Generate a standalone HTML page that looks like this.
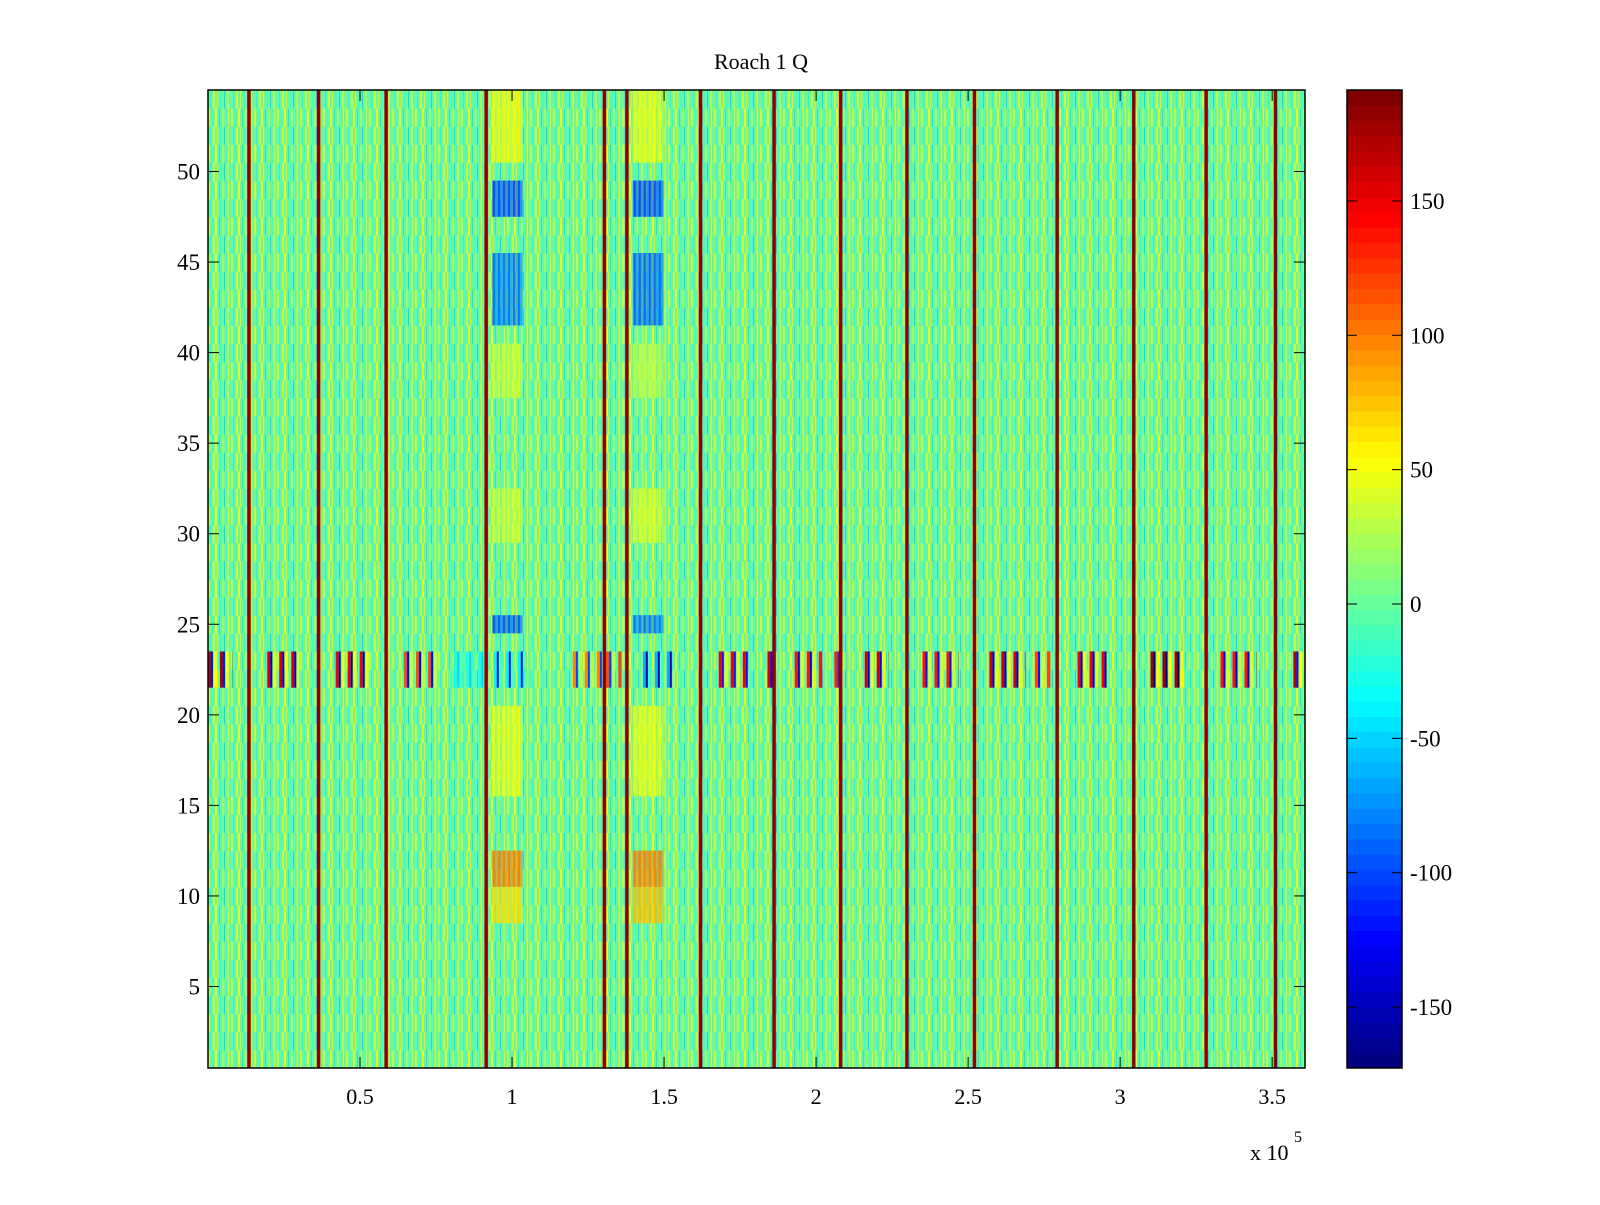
<!DOCTYPE html>
<html><head><meta charset="utf-8"><style>
body{margin:0;background:#fff;width:1600px;height:1200px;overflow:hidden}
svg text{font-family:"Liberation Serif",serif;fill:#000}
</style></head><body>
<svg id="chart" width="1600" height="1200" xmlns="http://www.w3.org/2000/svg">
<defs>
<pattern id="tex" patternUnits="userSpaceOnUse" width="23" height="36.22">
<rect width="23" height="36.22" fill="#70f4a0"/>
<rect x="1" width="2" height="18.11" fill="#b8ff48"/>
<rect x="5" width="1" height="18.11" fill="#30ffd0"/>
<rect x="8" width="2" height="18.11" fill="#e0ff20"/>
<rect x="12" width="1" height="18.11" fill="#10e8f0"/>
<rect x="15" width="2" height="18.11" fill="#90ff70"/>
<rect x="19" width="1" height="18.11" fill="#40ffc0"/>
<rect x="21" width="1" height="18.11" fill="#f0f010"/>
<rect x="3" y="18.11" width="1" height="18.11" fill="#20f8e0"/>
<rect x="6" y="18.11" width="2" height="18.11" fill="#c0ff40"/>
<rect x="10" y="18.11" width="1" height="18.11" fill="#ffe800"/>
<rect x="13" y="18.11" width="2" height="18.11" fill="#40ffc0"/>
<rect x="17" y="18.11" width="1" height="18.11" fill="#10d8ff"/>
<rect x="20" y="18.11" width="2" height="18.11" fill="#a8ff58"/>
</pattern>
</defs>
<text x="761" y="69" font-size="22" text-anchor="middle">Roach 1 Q</text>
<rect x="208" y="90" width="1097" height="978" fill="url(#tex)"/>
<g id="cells"></g>
<rect x="208" y="90" width="1097" height="978" fill="none" stroke="#000" stroke-width="1.5"/>
<g id="axes"></g>
<g id="cbar"></g>
<text x="1250" y="1160" font-size="22">x 10</text>
<text x="1294" y="1142" font-size="16">5</text>
</svg>
<script>
// ---- data ----
const xMin = 0, xMax = 3.608;           // units of 1e5
const yMin = 0.5, yMax = 54.5;
const cMin = -172.7, cMax = 191.3;
const xTicks = [0.5, 1, 1.5, 2, 2.5, 3, 3.5];
const xTickLabels = ["0.5","1","1.5","2","2.5","3","3.5"];
const yTicks = [5,10,15,20,25,30,35,40,45,50];
const cTicks = [-150,-100,-50,0,50,100,150];
const spikeX = [0.134,0.363,0.585,0.914,1.303,1.377,1.619,1.861,2.080,2.298,2.520,2.792,3.044,3.282,3.510];
const spikeV = [185,185,185,185,185,185,185,185,185,185,185,185,185,185,185];
// rectangular features: x0, x1, row0, row1, value
const featX0 = [0.934,0.934,0.934,0.934,0.934,0.934,0.934,0.934,0.934, 1.397,1.397,1.397,1.397,1.397,1.397,1.397,1.397,1.397];
const featX1 = [1.035,1.035,1.035,1.035,1.035,1.035,1.035,1.035,1.035, 1.498,1.498,1.498,1.498,1.498,1.498,1.498,1.498,1.498];
const featR0 = [51,48,42,38,30,25,16,11,9, 51,48,42,38,30,25,16,11,9];
const featR1 = [54,49,45,40,32,25,20,12,10, 54,49,45,40,32,25,20,12,10];
const featV  = [50,-95,-80,35,35,-90,45,95,65, 45,-95,-85,30,40,-80,45,95,75];
// band clusters (rows 22-23): x0, x1, hi value, lo value
const bandX0 = [0.00,0.195,0.42,0.645,0.81,0.94,1.20,1.31,1.43,1.68,1.84,1.93,2.06,2.16,2.35,2.57,2.72,2.86,3.10,3.33,3.57];
const bandX1 = [0.08,0.30,0.53,0.76,0.91,1.06,1.30,1.36,1.53,1.78,1.87,2.02,2.10,2.24,2.47,2.69,2.77,2.96,3.21,3.45,3.60];
const bandHi = [170,160,150,120,-30,-40,100,120,-60,150,160,140,130,160,140,160,120,150,175,140,170];
const bandLo = [-120,-140,-150,-130,-50,-120,-100,-110,-150,-120,-130,-140,-110,-130,-120,-140,-120,-140,-170,-130,-120];
const bandRow0 = 22, bandRow1 = 23;

// ---- scales ----
const PX0=208, PX1=1305, PY0=90, PY1=1068;
const sx = v => PX0 + (v - xMin) / (xMax - xMin) * (PX1 - PX0);
const sy = v => PY1 - (v - yMin) / (yMax - yMin) * (PY1 - PY0);
function jet(v){
  let t=(v-cMin)/(cMax-cMin); t=Math.max(0,Math.min(1,t));
  t=Math.floor(t*63.999)/63;
  const c=x=>Math.round(255*Math.max(0,Math.min(1,x)));
  return `rgb(${c(1.5-Math.abs(4*t-3))},${c(1.5-Math.abs(4*t-2))},${c(1.5-Math.abs(4*t-1))})`;
}
const NS="http://www.w3.org/2000/svg";
function mk(tag,attrs,parent){const e=document.createElementNS(NS,tag);for(const k in attrs)e.setAttribute(k,attrs[k]);parent.appendChild(e);return e;}
const cells=document.getElementById('cells');
// features
for(let i=0;i<featV.length;i++){
  const x0=sx(featX0[i]), x1=sx(featX1[i]);
  const yTop=sy(featR1[i]+0.5), yBot=sy(featR0[i]-0.5);
  const e=mk('rect',{x:x0,y:yTop,width:x1-x0,height:yBot-yTop,fill:jet(featV[i]),opacity:0.6},cells);
  
  
  for(let x=x0+1;x<x1;x+=5){
    const s=mk('rect',{x:x,y:yTop,width:2,height:yBot-yTop,fill:jet(featV[i]*1.1),opacity:0.7},cells);
    
    
  }
}
// band
for(let i=0;i<bandX0.length;i++){
  const x0=sx(bandX0[i]), x1=sx(bandX1[i]);
  const yTop=sy(bandRow1+0.5), yBot=sy(bandRow0-0.5);
  let k=0;
  for(let x=x0;x<x1;x+=3,k++){
    if(k%4===3) continue;
    const v=[bandHi[i],bandLo[i],bandHi[i]*0.3][k%4];
    const e=mk('rect',{x:x,y:yTop,width:Math.min(k%2?2:3,x1-x),height:yBot-yTop,fill:jet(v)},cells);
    
    
  }
}
// spikes
for(let i=0;i<spikeX.length;i++){
  const e=mk('rect',{x:sx(spikeX[i])-1.5,y:PY0,width:3.5,height:PY1-PY0,fill:jet(spikeV[i])},cells);
  
  
}
// axes
const axes=document.getElementById('axes');
xTicks.forEach((t,i)=>{
  const x=sx(t);
  const a=mk('line',{x1:x,y1:PY1,x2:x,y2:PY1-11,stroke:'#000','stroke-width':1},axes);
  
  const b=mk('line',{x1:x,y1:PY0,x2:x,y2:PY0+11,stroke:'#000','stroke-width':1},axes);
  
  const l=mk('text',{x:x,y:PY1+36,'font-size':22,'text-anchor':'middle'},axes);
  l.textContent=xTickLabels[i];
  
});
yTicks.forEach(t=>{
  const y=sy(t);
  const a=mk('line',{x1:PX0,y1:y,x2:PX0+11,y2:y,stroke:'#000','stroke-width':1},axes);
  
  const b=mk('line',{x1:PX1,y1:y,x2:PX1-11,y2:y,stroke:'#000','stroke-width':1},axes);
  
  const l=mk('text',{x:PX0-8,y:y+8,'font-size':23,'text-anchor':'end'},axes);
  l.textContent=String(t);
  
});
// colorbar
const cb=document.getElementById('cbar');
const CX0=1347, CX1=1402;
const cy=v=>PY1-(v-cMin)/(cMax-cMin)*(PY1-PY0);
for(let k=0;k<64;k++){
  const v0=cMin+(cMax-cMin)*k/64, v1=cMin+(cMax-cMin)*(k+1)/64;
  const e=mk('rect',{x:CX0,y:cy(v1),width:CX1-CX0,height:cy(v0)-cy(v1)+0.5,fill:jet((v0+v1)/2)},cb);
  
}
const fr=mk('rect',{x:CX0,y:PY0,width:CX1-CX0,height:PY1-PY0,fill:'none',stroke:'#000','stroke-width':1.5},cb);

cTicks.forEach(t=>{
  const y=cy(t);
  const a=mk('line',{x1:CX0,y1:y,x2:CX0+10,y2:y,stroke:'#000'},cb);
  
  const b=mk('line',{x1:CX1,y1:y,x2:CX1-10,y2:y,stroke:'#000'},cb);
  
  const l=mk('text',{x:CX1+8,y:y+8,'font-size':23},cb);
  l.textContent=String(t);
  
});
</script>
</body></html>
